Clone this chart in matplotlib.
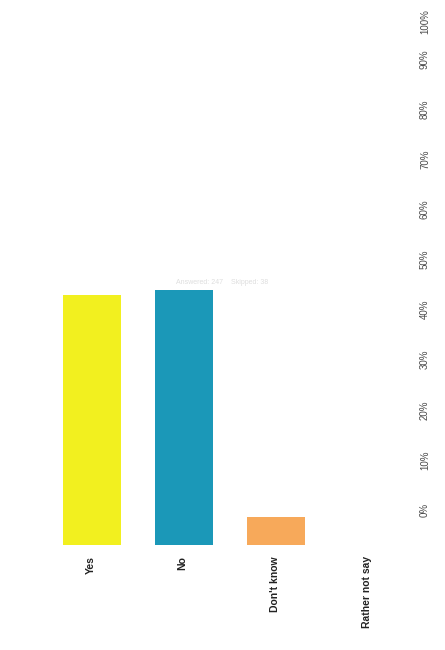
import matplotlib
matplotlib.use("Agg")
import matplotlib.pyplot as plt

categories = ["Yes", "No", "Don't know", "Rather not say"]
values = [46.9, 47.8, 5.3, 0.0]
colors = ["#f2f01f", "#1b98b8", "#f7a95a", "#cccccc"]
pct_ticks = [0, 10, 20, 30, 40, 50, 60, 70, 80, 90, 100]
pct_labels = [f"{t}%" for t in pct_ticks]
answered_text = "Answered: 247    Skipped: 38"

W, H = 445, 650
fig = plt.figure(figsize=(W / 100, H / 100), dpi=100)
plt.rcParams['font.family'] = ['Liberation Sans', 'DejaVu Sans']

# bar axes: base line at y=545 px, 5.33 px per percent, category step 92 px
base_px = 545
px_per_pct = 5.33
ax = fig.add_axes([0, 1 - base_px / H, 1, base_px / H])
ax.set_ylim(0, base_px / px_per_pct)
ax.set_xlim(-92 / 92, (W - 92) / 92)
xs = list(range(len(categories)))
ax.bar(xs, values, width=0.63, color=colors, edgecolor='none')
for spine in ax.spines.values():
    spine.set_visible(False)
ax.set_xticks([])
ax.set_yticks([])
ax.patch.set_alpha(0)

# category labels, rotated (reading bottom to top), ending just under the bars
for x, lab in zip(xs, categories):
    ax.annotate(lab, xy=(x, 0), xycoords='data', xytext=(-1, -8),
                textcoords='offset points', rotation=90, rotation_mode='anchor',
                ha='right', va='center', fontsize=7.5, fontweight='bold',
                color='#222222')

# percentage scale on the right: 0% at 510 px, 90% at 59 px
top_px = 510 - (510 - 59) / 0.9
ax2 = fig.add_axes([0, 1 - 510 / H, 1, (510 - top_px) / H])
ax2.set_ylim(0, 100)
ax2.patch.set_alpha(0)
for spine in ax2.spines.values():
    spine.set_visible(False)
ax2.set_xticks([])
ax2.yaxis.tick_right()
ax2.set_yticks(pct_ticks)
ax2.set_yticklabels(pct_labels, rotation=90, va='center', fontsize=7,
                    color='#4a4a4a')
ax2.tick_params(axis='y', length=0, pad=-18)
ax2.get_yticklabels()[-1].set_va('top')

fig.text(222 / W, 1 - 283 / H, answered_text, ha='center', va='center',
         fontsize=5, color='#dedede')

fig.savefig("out.png", dpi=100, facecolor='white')
